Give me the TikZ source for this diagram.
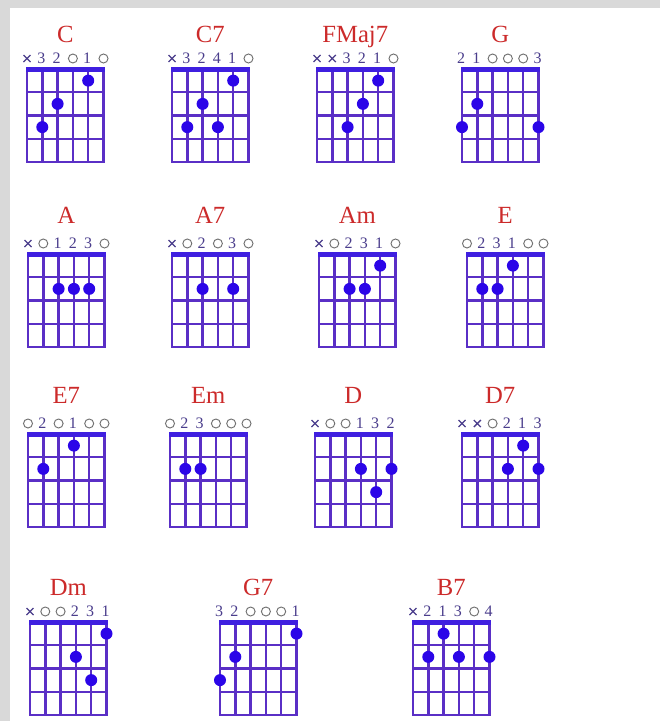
\documentclass[tikz,border=0pt]{standalone}
\usepackage{fontspec}
\setmainfont{Liberation Serif}
\definecolor{gridc}{HTML}{5A2FC6}
\definecolor{nutc}{HTML}{3F1FE0}
\definecolor{dotc}{HTML}{2B05E8}
\definecolor{titlec}{HTML}{CC2A2A}
\definecolor{labc}{HTML}{4A3D8C}
\definecolor{openc}{HTML}{707070}
\definecolor{framec}{HTML}{D9D9D9}
\def\lx{x}\def\lo{o}
\tikzset{
  gridline/.style={draw=gridc, line width=1.8pt},
  titlestyle/.style={text=titlec, font=\fontsize{18.5}{20}\selectfont, anchor=base, inner sep=0pt},
  labstyle/.style={text=labc, font=\fontsize{12}{14}\selectfont, anchor=base, inner sep=0pt},
  openmark/.style={draw=openc, line width=0.7pt},
  mutemark/.style={draw=labc, line width=1pt},
  fingerdot/.style={fill=dotc},
}
% #1 name, #2 x0, #3 y0 (nut), #4 title baseline, #5 labels, #6 dots
\newcommand\chordd[6]{%
 \begin{scope}[shift={(#2,#3)}]
  \node[titlestyle] (t-#1) at (38.25,#4-#3) {#1};
  \foreach \i in {0,...,5} \draw[gridline] (\i*15.3,0) -- (\i*15.3,93);
  \foreach \j in {1,...,4} \draw[gridline] (-1,\j*23.25) -- (77.5,\j*23.25);
  \fill[nutc] (-1.2,-2.4) rectangle (77.7,2.6);
  \foreach \s/\t in {#5} {%
    \edef\tmp{\t}%
    \ifx\tmp\lx
      \draw[mutemark] (\s*15.3-3.5,-14) -- (\s*15.3+3.5,-7) (\s*15.3-3.5,-7) -- (\s*15.3+3.5,-14);
    \else\ifx\tmp\lo
      \draw[openmark] (\s*15.3,-10.5) circle (4.5);
    \else
      \node[labstyle] at (\s*15.3-1,-6) {\t};
    \fi\fi
  }
  \foreach \s/\f in {#6} \fill[fingerdot] (\s*15.3,{(\f-0.5)*23.25}) circle (6);
 \end{scope}}

\begin{document}
\begin{tikzpicture}[x=0.75pt,y=-0.75pt]
\useasboundingbox (0,0) rectangle (660,721);
\fill[framec] (0,0) rectangle (660,721);
\fill[white] (10,8) rectangle (660,721);
% row 1
\chordd{C}{27}{69}{42}{0/x,1/3,2/2,3/o,4/1,5/o}{1/3,2/2,4/1}
\chordd{C7}{172}{69}{42}{0/x,1/3,2/2,3/4,4/1,5/o}{1/3,2/2,3/3,4/1}
\chordd{FMaj7}{317}{69}{42}{0/x,1/x,2/3,3/2,4/1,5/o}{2/3,3/2,4/1}
\chordd{G}{462}{69}{42}{0/2,1/1,2/o,3/o,4/o,5/3}{0/3,1/2,5/3}
% row 2
\chordd{A}{28}{254}{223}{0/x,1/o,2/1,3/2,4/3,5/o}{2/2,3/2,4/2}
\chordd{A7}{172}{254}{223}{0/x,1/o,2/2,3/o,4/3,5/o}{2/2,4/2}
\chordd{Am}{319}{254}{223}{0/x,1/o,2/2,3/3,4/1,5/o}{2/2,3/2,4/1}
\chordd{E}{467}{254}{223}{0/o,1/2,2/3,3/1,4/o,5/o}{1/2,2/2,3/1}
% row 3
\chordd{E7}{28}{434}{403}{0/o,1/2,2/o,3/1,4/o,5/o}{1/2,3/1}
\chordd{Em}{170}{434}{403}{0/o,1/2,2/3,3/o,4/o,5/o}{1/2,2/2}
\chordd{D}{315}{434}{403}{0/x,1/o,2/o,3/1,4/3,5/2}{3/2,4/3,5/2}
\chordd{D7}{462}{434}{403}{0/x,1/x,2/o,3/2,4/1,5/3}{3/2,4/1,5/2}
% row 4
\chordd{Dm}{30}{622}{595}{0/x,1/o,2/o,3/2,4/3,5/1}{3/2,4/3,5/1}
\chordd{G7}{220}{622}{595}{0/3,1/2,2/o,3/o,4/o,5/1}{0/3,1/2,5/1}
\chordd{B7}{413}{622}{595}{0/x,1/2,2/1,3/3,4/o,5/4}{1/2,2/1,3/2,5/2}
\end{tikzpicture}
\end{document}
